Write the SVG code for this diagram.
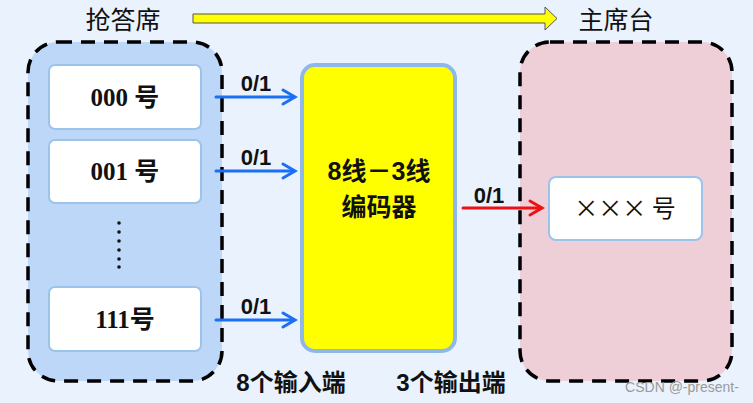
<svg xmlns="http://www.w3.org/2000/svg" width="753" height="403" viewBox="0 0 753 403">
<defs>
<style>
.cjk{font-family:"Liberation Sans","Noto Sans CJK SC",sans-serif;}
.ser{font-family:"Liberation Serif","Noto Sans CJK SC",serif;font-weight:bold;font-size:25px;}
.lbl{font-family:"Liberation Sans","Noto Sans CJK SC",sans-serif;font-weight:bold;font-size:22px;fill:#111;}
.slot{fill:#ffffff;stroke:#9cc3ea;stroke-width:2;}
.dash{stroke:#000;stroke-width:3.5;stroke-dasharray:14,9;}
</style>
</defs>
<rect width="753" height="403" fill="#eaf2fd"/>

<g id="title-left"><text x="123" y="29" class="cjk" font-size="25" text-anchor="middle" fill="#111">抢答席</text></g>
<g id="title-right"><text x="616" y="29" class="cjk" font-size="25" text-anchor="middle" fill="#111">主席台</text></g>

<g id="big-arrow">
<path d="M193,14 H545 V7 L557,18.5 L545,30 V23 H193 Z" fill="#ffff00" stroke="#555" stroke-width="1"/>
</g>

<g id="panel-left">
<rect x="28" y="42" width="194" height="339" rx="30" fill="#bdd7f9" class="dash"/>
</g>
<g id="slot-000"><rect x="49" y="65" width="152" height="64" rx="6" class="slot"/><text x="125" y="106" class="ser" text-anchor="middle" fill="#111">000 号</text></g>
<g id="slot-001"><rect x="49" y="140" width="152" height="63" rx="6" class="slot"/><text x="125" y="180" class="ser" text-anchor="middle" fill="#111">001 号</text></g>
<g id="dots" fill="#111">
<circle cx="119" cy="223" r="1.8"/><circle cx="119" cy="232" r="1.8"/><circle cx="119" cy="241" r="1.8"/><circle cx="119" cy="250" r="1.8"/><circle cx="119" cy="259" r="1.8"/><circle cx="119" cy="267" r="1.8"/>
</g>
<g id="slot-111"><rect x="49" y="287" width="152" height="64" rx="6" class="slot"/><text x="125" y="328" class="ser" text-anchor="middle" fill="#111">111号</text></g>

<g id="encoder">
<rect x="302" y="65" width="153" height="286" rx="13" fill="#ffff00" stroke="#8fb8e8" stroke-width="4"/>
<text x="379" y="180" class="cjk" font-size="25" font-weight="bold" text-anchor="middle" fill="#111">8线－3线</text>
<text x="379" y="216" class="cjk" font-size="25" font-weight="bold" text-anchor="middle" fill="#111">编码器</text>
</g>

<g id="panel-right">
<rect x="520" y="42" width="212" height="339" rx="30" fill="#eecfd8" class="dash"/>
</g>
<g id="result"><rect x="549" y="177" width="153" height="63" rx="7" class="slot"/><text x="625" y="217" font-family="'Noto Sans CJK SC',sans-serif" font-size="24" text-anchor="middle" fill="#111">××× 号</text></g>

<g id="connectors" stroke-linecap="round">
<g stroke="#1a6ff5" stroke-width="3" fill="none">
<path d="M216,97 H294"/><path d="M283,90 L295,97 L283,104"/>
<path d="M216,171 H294"/><path d="M283,164 L295,171 L283,178"/>
<path d="M216,320 H294"/><path d="M283,313 L295,320 L283,327"/>
</g>
<g stroke="#ee1111" stroke-width="3" fill="none">
<path d="M463,208 H541"/><path d="M530,201 L542,208 L530,215"/>
</g>
<text x="256" y="91" class="lbl" text-anchor="middle">0/1</text>
<text x="256" y="165" class="lbl" text-anchor="middle">0/1</text>
<text x="256" y="314" class="lbl" text-anchor="middle">0/1</text>
<text x="489" y="203" class="lbl" text-anchor="middle">0/1</text>
</g>

<g id="captions">
<text x="291" y="391" class="cjk" font-size="24" font-weight="bold" text-anchor="middle" fill="#111">8个输入端</text>
<text x="451" y="391" class="cjk" font-size="24" font-weight="bold" text-anchor="middle" fill="#111">3个输出端</text>
<text x="682" y="392" class="cjk" font-size="14" text-anchor="middle" fill="#9a9a9a">CSDN @-present-</text>
</g>
</svg>
